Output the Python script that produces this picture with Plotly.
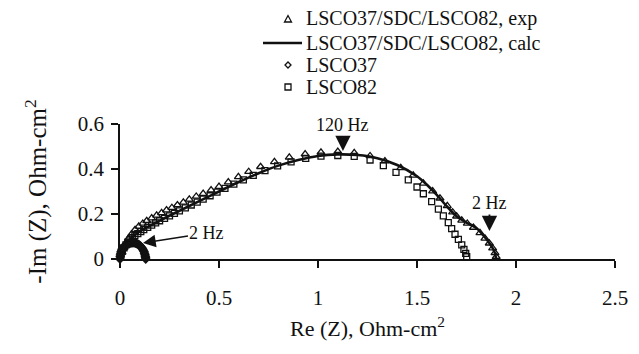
import plotly.graph_objects as go

# LSCO37/SDC/LSCO82, exp (triangles)
exp_x = [0.01, 0.02, 0.03, 0.042, 0.058, 0.076, 0.095, 0.115, 0.135, 0.16, 0.185, 0.21, 0.235, 0.262, 0.29,
         0.32, 0.35, 0.385, 0.42, 0.46, 0.5, 0.547, 0.598, 0.65, 0.71, 0.78, 0.855, 0.935, 1.015, 1.1,
         1.183, 1.263, 1.338, 1.418, 1.481, 1.532, 1.579, 1.616, 1.653, 1.68, 1.7, 1.726, 1.754, 1.785,
         1.818, 1.843, 1.865, 1.882, 1.894, 1.9]
exp_y = [0.03, 0.05, 0.07, 0.09, 0.11, 0.13, 0.145, 0.158, 0.17, 0.182, 0.194, 0.205, 0.217, 0.228, 0.24,
         0.252, 0.265, 0.278, 0.291, 0.306, 0.322, 0.342, 0.365, 0.388, 0.41, 0.432, 0.452, 0.466, 0.474, 0.477,
         0.472, 0.458, 0.435, 0.405, 0.372, 0.336, 0.302, 0.27, 0.236, 0.208, 0.19, 0.172, 0.158, 0.14,
         0.116, 0.092, 0.07, 0.048, 0.027, 0.01]

# LSCO37/SDC/LSCO82, calc (line)
calc_x = [0.0, 0.02, 0.05, 0.1, 0.2, 0.3, 0.4, 0.5, 0.6, 0.7, 0.8, 0.9, 1.0, 1.1, 1.2, 1.3, 1.4, 1.5,
          1.55, 1.6, 1.65, 1.7, 1.75, 1.8, 1.84, 1.87, 1.89, 1.9]
calc_y = [0.0, 0.05, 0.085, 0.122, 0.17, 0.214, 0.257, 0.3, 0.342, 0.381, 0.415, 0.44, 0.458, 0.465, 0.462,
          0.448, 0.418, 0.368, 0.33, 0.285, 0.235, 0.19, 0.162, 0.138, 0.1, 0.065, 0.035, 0.0]

# LSCO37 (diamonds)
l37_x = [0.0, 0.001, 0.002, 0.004, 0.006, 0.009, 0.012, 0.016, 0.02, 0.025, 0.03, 0.035, 0.041, 0.047,
         0.053, 0.059, 0.065, 0.071, 0.077, 0.083, 0.089, 0.095, 0.1, 0.105, 0.11, 0.114, 0.118, 0.121,
         0.124, 0.126, 0.128, 0.129, 0.13]
l37_y = [0.0, 0.01, 0.018, 0.026, 0.033, 0.04, 0.046, 0.051, 0.056, 0.06, 0.063, 0.066, 0.068, 0.07,
         0.071, 0.072, 0.072, 0.072, 0.071, 0.069, 0.067, 0.064, 0.06, 0.056, 0.05, 0.045, 0.039, 0.033,
         0.026, 0.019, 0.012, 0.006, 0.0]

# LSCO82 (squares)
l82_x = [0.005, 0.012, 0.02, 0.03, 0.04, 0.05, 0.062, 0.075, 0.09, 0.105, 0.12, 0.14, 0.16, 0.18, 0.2,
         0.225, 0.25, 0.275, 0.3, 0.33, 0.36, 0.39, 0.42, 0.455, 0.49, 0.53, 0.575, 0.623, 0.673, 0.732,
         0.796, 0.864, 0.938, 1.015, 1.1, 1.183, 1.263, 1.33, 1.394, 1.456, 1.5, 1.532, 1.574, 1.608,
         1.633, 1.658, 1.675, 1.692, 1.709, 1.726, 1.737, 1.746, 1.751]
l82_y = [0.02, 0.035, 0.05, 0.063, 0.075, 0.085, 0.095, 0.104, 0.113, 0.122, 0.131, 0.141, 0.151, 0.161, 0.17,
         0.181, 0.192, 0.203, 0.214, 0.227, 0.24, 0.253, 0.266, 0.281, 0.297, 0.314, 0.333, 0.352, 0.372, 0.393,
         0.414, 0.432, 0.447, 0.457, 0.46, 0.456, 0.44, 0.415, 0.385, 0.352, 0.32, 0.29, 0.255, 0.222,
         0.192, 0.162, 0.135, 0.11, 0.087, 0.063, 0.043, 0.025, 0.01]

series_names = ["LSCO37/SDC/LSCO82, exp", "LSCO37/SDC/LSCO82, calc", "LSCO37", "LSCO82"]

x_ticks = [0, 0.5, 1, 1.5, 2, 2.5]
x_tick_text = ["0", "0.5", "1", "1.5", "2", "2.5"]
y_ticks = [0, 0.2, 0.4, 0.6]
y_tick_text = ["0", "0.2", "0.4", "0.6"]

FONT = "Liberation Serif, Times New Roman, serif"
INK = "#111111"

fig = go.Figure()
fig.add_trace(go.Scatter(
    x=exp_x, y=exp_y, mode="markers", name=series_names[0],
    marker=dict(symbol="triangle-up-open", size=7, color=INK, line=dict(width=1.3, color=INK)),
    cliponaxis=False))
fig.add_trace(go.Scatter(
    x=calc_x, y=calc_y, mode="lines", name=series_names[1],
    line=dict(color=INK, width=2.6, shape="spline", smoothing=0.8), cliponaxis=False))
fig.add_trace(go.Scatter(
    x=l37_x, y=l37_y, mode="markers", name=series_names[2],
    marker=dict(symbol="diamond-open", size=5, color=INK, line=dict(width=2.4, color=INK)),
    cliponaxis=False))
fig.add_trace(go.Scatter(
    x=l82_x, y=l82_y, mode="markers", name=series_names[3],
    marker=dict(symbol="square-open", size=6, color=INK, line=dict(width=1.3, color=INK)),
    cliponaxis=False))

# --- legend drawn above the plot (compact row spacing as in the reference) ---
leg_rows_y = [1.7778, 1.6, 1.437, 1.274]   # paper coords of the 4 legend rows
leg_text_x = 0.3737
leg_sym_x = 0.3394
for name, yy in zip(series_names, leg_rows_y):
    fig.add_annotation(x=leg_text_x, y=yy, xref="paper", yref="paper", text=name,
                       showarrow=False, xanchor="left", yanchor="middle", borderpad=0,
                       font=dict(family=FONT, size=20, color=INK))
sym_paths = {
    0: "M-3.5,-3 L3.5,-3 L0,3.5 Z",
    2: "M0,-3 L3,0 L0,3 L-3,0 Z",
    3: "M-3,-3 L3,-3 L3,3 L-3,3 Z",
}
for i, path in sym_paths.items():
    fig.add_shape(type="path", xref="paper", yref="paper", xsizemode="pixel", ysizemode="pixel",
                  xanchor=leg_sym_x, yanchor=leg_rows_y[i], path=path,
                  line=dict(color=INK, width=1.3))
fig.add_shape(type="line", xref="paper", yref="paper", x0=0.2889, x1=0.3677,
              y0=leg_rows_y[1], y1=leg_rows_y[1], line=dict(color=INK, width=2.6))

ann_font = dict(family=FONT, size=18, color=INK)
fig.add_annotation(x=1.126, y=0.48, text="120 Hz", showarrow=True, ax=0, ay=-26,
                   arrowhead=2, arrowsize=1.7, arrowwidth=1.8, arrowcolor=INK, font=ann_font)
fig.add_annotation(x=1.866, y=0.124, text="2 Hz", showarrow=True, ax=0, ay=-28,
                   arrowhead=2, arrowsize=1.7, arrowwidth=1.8, arrowcolor=INK, font=ann_font)
fig.add_annotation(x=0.116, y=0.071, text="2 Hz", showarrow=True, ax=64, ay=-10,
                   arrowhead=2, arrowsize=1.7, arrowwidth=1.5, arrowcolor=INK, font=ann_font)

# The page body adds an 8 px offset, so the figure is laid out 8 px smaller/shifted.
fig.update_layout(
    width=631, height=346,
    margin=dict(l=112, r=24, t=116, b=95, autoexpand=False),
    paper_bgcolor="white", plot_bgcolor="white",
    font=dict(family=FONT, size=21, color=INK),
    showlegend=False,
    xaxis=dict(range=[0, 2.5], tickvals=x_ticks, ticktext=x_tick_text, showgrid=False,
               zeroline=False, showline=True, linecolor=INK, linewidth=1.5,
               ticks="outside", ticklen=7, tickwidth=1.5, tickcolor=INK,
               ticklabelstandoff=12, tickfont=dict(size=21),
               title=dict(text="Re (Z), Ohm-cm<sup>2</sup>", font=dict(size=22), standoff=12)),
    yaxis=dict(range=[0, 0.6], tickvals=y_ticks, ticktext=y_tick_text, showgrid=False,
               zeroline=False, showline=True, linecolor=INK, linewidth=1.5,
               ticks="outside", ticklen=7, tickwidth=1.5, tickcolor=INK,
               ticklabelstandoff=3, tickfont=dict(size=21),
               title=dict(text="-Im (Z), Ohm-cm<sup>2</sup>", font=dict(size=25), standoff=24)),
)

fig.write_html("out.html")
